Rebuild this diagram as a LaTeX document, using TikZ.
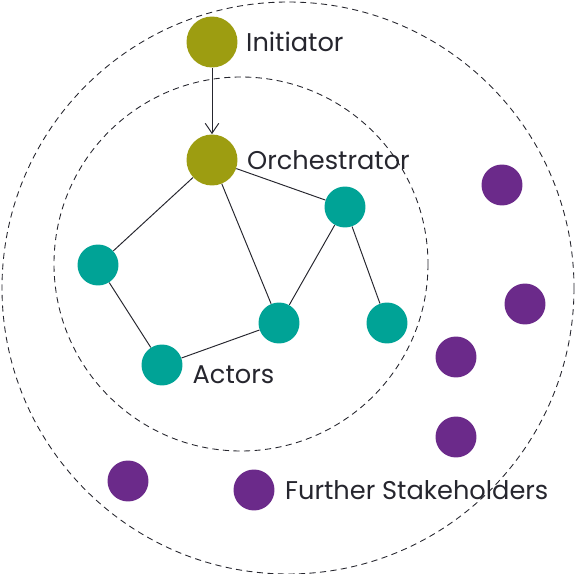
\documentclass[tikz,border=0pt]{standalone}
\usepackage{fontspec}
\setmainfont{Poppins}
\usetikzlibrary{positioning,arrows.meta}
\definecolor{leadcol}{HTML}{9D9D11}
\definecolor{actorcol}{HTML}{00A396}
\definecolor{holdcol}{HTML}{6B2A8A}
\definecolor{inkgray}{HTML}{26262E}

\begin{document}
\begin{tikzpicture}[
    x=0.02cm, y=-0.02cm,
    every node/.style={
        font=\fontsize{14.6}{17}\selectfont,
        text=inkgray
    },
    lead/.style={
        circle,
        fill=leadcol,
        minimum size=1.02cm,
        inner sep=0pt
    },
    actor/.style={
        circle,
        fill=actorcol,
        minimum size=0.82cm,
        inner sep=0pt
    },
    holder/.style={
        circle,
        fill=holdcol,
        minimum size=0.82cm,
        inner sep=0pt
    },
    tag/.style={
        anchor=west,
        inner sep=0pt
    },
    link/.style={
        draw=inkgray,
        line width=0.55pt
    },
    ring/.style={
        draw=inkgray,
        line width=0.5pt,
        dash pattern=on 3.5pt off 2.5pt
    }
]
\useasboundingbox (0,0) rectangle (576,574);

% Rings
\draw[ring] (288,288) circle[radius=286];
\draw[ring] (241,264) circle[radius=187];

% Nodes
\node[lead] (init) at (212,42) {};
\node[lead] (orch) at (212,160) {};
\node[actor] (a1) at (98,265) {};
\node[actor] (a2) at (162,365) {};
\node[actor] (a3) at (279,323) {};
\node[actor] (a4) at (345,207) {};
\node[actor] (a5) at (387,323) {};
\node[holder] (h1) at (502,185) {};
\node[holder] (h2) at (525,304) {};
\node[holder] (h3) at (456,357) {};
\node[holder] (h4) at (456,437) {};
\node[holder] (h5) at (128,481) {};
\node[holder] (h6) at (254,490) {};

% Labels
\node[tag, right=0.16cm of init] (initlbl) {Initiator};
\node[tag, right=0.18cm of orch] (orchlbl) {Orchestrator};
\node[tag, right=0.19cm of a2, yshift=-0.2cm] (actlbl) {Actors};
\node[tag, right=0.2cm of h6] (holdlbl) {Further Stakeholders};

% Edges
\draw[link, -{Straight Barb[length=0.2cm, width=0.27cm]}] (init) -- (orch);
\draw[link] (orch) -- (a1);
\draw[link] (orch) -- (a3);
\draw[link] (orch) -- (a4);
\draw[link] (a1) -- (a2);
\draw[link] (a2) -- (a3);
\draw[link] (a3) -- (a4);
\draw[link] (a4) -- (a5);

\end{tikzpicture}
\end{document}
